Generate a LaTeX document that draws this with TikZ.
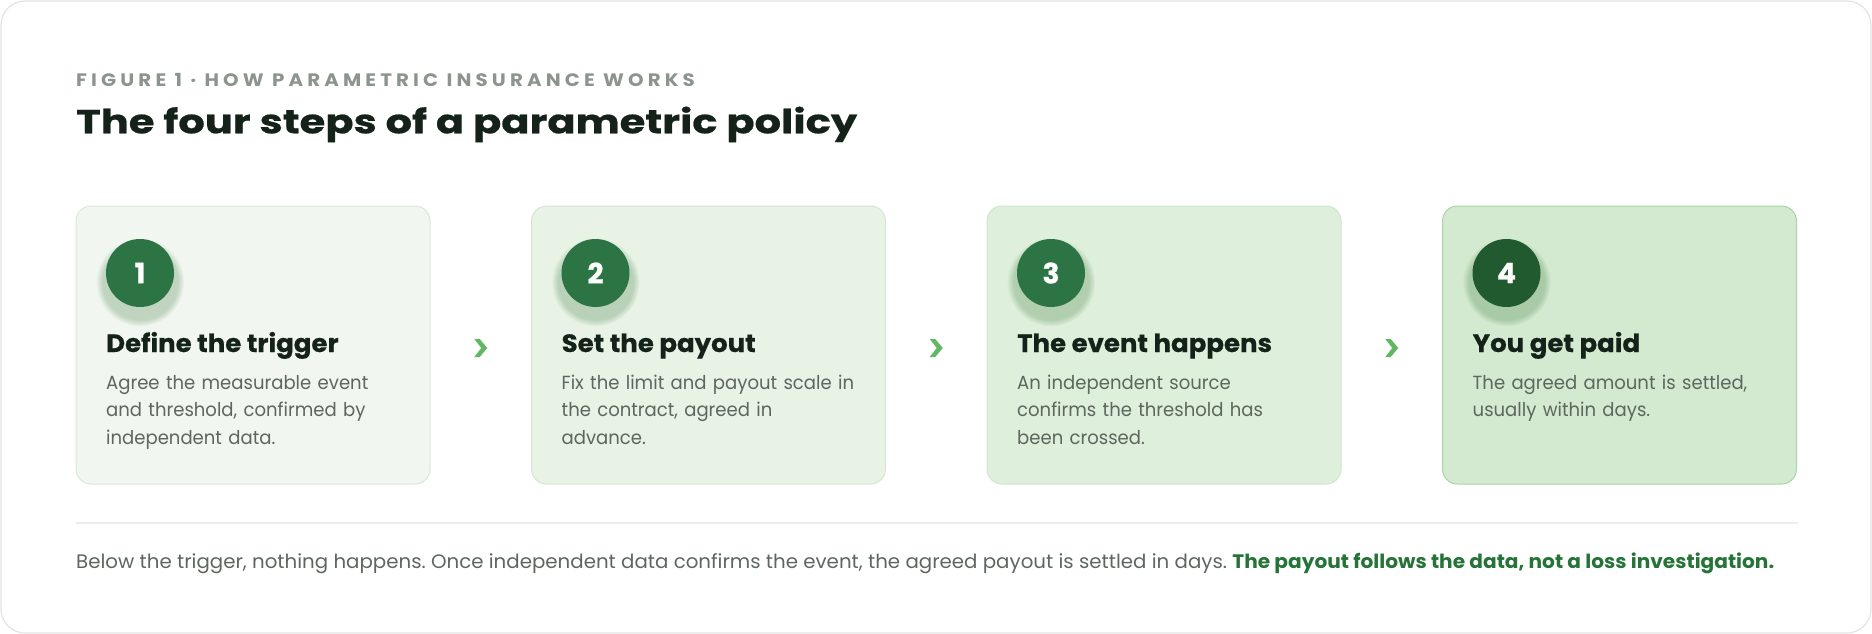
\documentclass[tikz,border=0pt]{standalone}
\usepackage{fontspec}
\setmainfont{Poppins}
\usetikzlibrary{positioning,calc,shadows}

\definecolor{framegray}{HTML}{E2E4E2}
\definecolor{kickergray}{HTML}{8B958D}
\definecolor{inkdark}{HTML}{14221A}
\definecolor{bodygray}{HTML}{5D665F}
\definecolor{leafgreen}{HTML}{267338}
\definecolor{badgegreen}{HTML}{2C7443}
\definecolor{badgedark}{HTML}{215A2F}
\definecolor{chevgreen}{HTML}{62B862}
\definecolor{rulegray}{HTML}{ECECEC}
\definecolor{fillA}{HTML}{F1F7F0}
\definecolor{fillB}{HTML}{E8F3E6}
\definecolor{fillC}{HTML}{DEEFDB}
\definecolor{fillD}{HTML}{D3EAD0}
\definecolor{lineA}{HTML}{D8E8D6}
\definecolor{lineB}{HTML}{D4E6D1}
\definecolor{lineC}{HTML}{D0E6CC}
\definecolor{lineD}{HTML}{A9D4A5}

\tikzset{
  stepcard/.style={draw, rounded corners=15pt, minimum width=354pt, minimum height=278pt,
    inner sep=0pt, outer sep=0pt, anchor=north west, line width=1pt},
  badge/.style={circle, minimum size=68pt, inner sep=0pt, text=white,
    font=\fontsize{28}{28}\selectfont\bfseries\addfontfeature{FakeBold=0.8},
    circular drop shadow={shadow xshift=0pt, shadow yshift=-7pt, shadow scale=1.3,
      fill=black!70!green, opacity=0.2}},
  cardtitle/.style={anchor=base west, inner sep=0pt, text=inkdark,
    font=\fontsize{25}{30}\selectfont\bfseries\addfontfeature{FakeStretch=1.04,FakeBold=0.5}},
  cardtext/.style={anchor=base west, inner sep=0pt, text=bodygray, text width=330pt,
    align=left, font=\fontsize{19}{27.7}\selectfont\addfontfeature{FakeStretch=0.95}}
}

\begin{document}
\begin{tikzpicture}[x=1pt,y=-1pt]
    \useasboundingbox (0,0) rectangle (1872,634);
    \draw[framegray, line width=1.2pt, rounded corners=24pt] (1,1) rectangle (1871,633);

    % heading
    \node[anchor=base west, inner sep=0pt, text=kickergray,
      font=\fontsize{18}{18}\selectfont\bfseries\addfontfeature{FakeStretch=1.1,LetterSpace=23}] (kicker) at (76,87)
      {FIGURE 1 · HOW PARAMETRIC INSURANCE WORKS};
    \node[anchor=base west, inner sep=0pt, text=inkdark,
      font=\fontsize{33.3}{34}\selectfont\bfseries\addfontfeature{FakeStretch=1.25,FakeBold=0.6}] (headline) at (76,133.3)
      {The four steps of a parametric policy};

    % the four cards
    \node[stepcard, fill=fillA, draw=lineA] (s1) at (76,206) {};
    \node[stepcard, fill=fillB, draw=lineB, right=101.5pt of s1] (s2) {};
    \node[stepcard, fill=fillC, draw=lineC, right=101.5pt of s2] (s3) {};
    \node[stepcard, fill=fillD, draw=lineD, right=101.5pt of s3] (s4) {};

    \node[badge, fill=badgegreen] (b1) at ($(s1.north west)+(64,67)$) {1};
    \node[badge, fill=badgegreen] (b2) at ($(s2.north west)+(64,67)$) {2};
    \node[badge, fill=badgegreen] (b3) at ($(s3.north west)+(64,67)$) {3};
    \node[badge, fill=badgedark] (b4) at ($(s4.north west)+(64,67)$) {4};

    \node[cardtitle] (t1) at ($(s1.north west)+(30,146)$) {Define the trigger};
    \node[cardtitle] (t2) at ($(s2.north west)+(30,146)$) {Set the payout};
    \node[cardtitle] (t3) at ($(s3.north west)+(30,146)$) {The event happens};
    \node[cardtitle] (t4) at ($(s4.north west)+(30,146)$) {You get paid};

    \node[cardtext] (d1) at ($(s1.north west)+(30,183)$)
      {Agree the measurable event\\and threshold, confirmed by\\independent data.};
    \node[cardtext] (d2) at ($(s2.north west)+(30,183)$)
      {Fix the limit and payout scale in\\the contract, agreed in\\advance.};
    \node[cardtext] (d3) at ($(s3.north west)+(30,183)$)
      {An independent source\\confirms the threshold has\\been crossed.};
    \node[cardtext] (d4) at ($(s4.north west)+(30,183)$)
      {The agreed amount is settled,\\usually within days.};

    % chevrons between the cards
    \coordinate (m12) at ($(s1.east)!0.5!(s2.west)+(0,3)$);
    \coordinate (m23) at ($(s2.east)!0.5!(s3.west)+(0,3)$);
    \coordinate (m34) at ($(s3.east)!0.5!(s4.west)+(0,3)$);
    \fill[chevgreen] ($(m12)+(-6.5,-9)$) -- ($(m12)+(-1,-9)$) -- ($(m12)+(6.5,0)$) -- ($(m12)+(-1,9)$) -- ($(m12)+(-6.5,9)$) -- ($(m12)+(0.5,0)$) -- cycle;
    \fill[chevgreen] ($(m23)+(-6.5,-9)$) -- ($(m23)+(-1,-9)$) -- ($(m23)+(6.5,0)$) -- ($(m23)+(-1,9)$) -- ($(m23)+(-6.5,9)$) -- ($(m23)+(0.5,0)$) -- cycle;
    \fill[chevgreen] ($(m34)+(-6.5,-9)$) -- ($(m34)+(-1,-9)$) -- ($(m34)+(6.5,0)$) -- ($(m34)+(-1,9)$) -- ($(m34)+(-6.5,9)$) -- ($(m34)+(0.5,0)$) -- cycle;

    % footer
    \coordinate (ruleL) at (76,523);
    \coordinate (ruleR) at (1798,523);
    \draw[rulegray, line width=1.5pt] (ruleL) -- (ruleR);
    \node[anchor=base west, inner sep=0pt, font=\fontsize{19.5}{24}\selectfont\addfontfeature{FakeStretch=1.015}] (note) at (76,568.3)
      {\frenchspacing\color{bodygray}Below the trigger, nothing happens. Once independent data confirms the event, the agreed payout is settled in days. \textcolor{leafgreen}{\bfseries\addfontfeature{FakeStretch=1.032} The payout follows the data, not a loss investigation.}};
\end{tikzpicture}
\end{document}
